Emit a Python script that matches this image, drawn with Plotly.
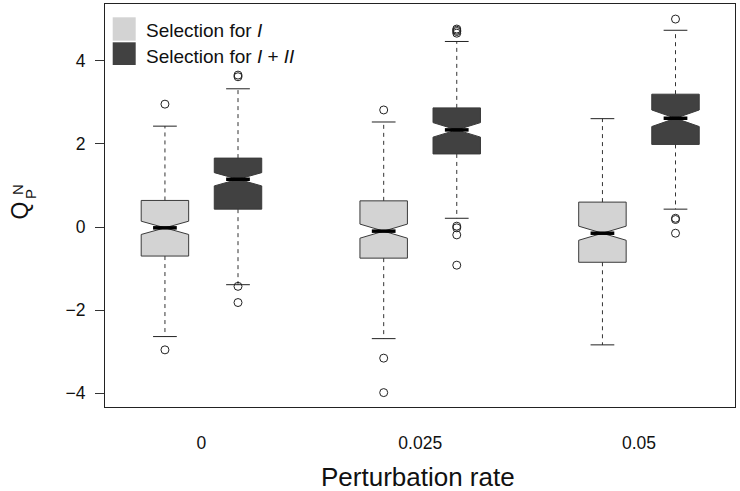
import plotly.graph_objects as go

# ---------------- data ----------------
categories = ["0", "0.025", "0.05"]
positions = [0, 1, 2]

# Selection for I (light boxes)
sel1_q1 = [-0.70, -0.75, -0.85]
sel1_median = [-0.02, -0.10, -0.15]
sel1_q3 = [0.64, 0.63, 0.60]
sel1_low = [-2.64, -2.69, -2.84]
sel1_high = [2.43, 2.53, 2.61]
sel1_notch = [0.16, 0.17, 0.17]
sel1_outliers = [[2.96, -2.96], [2.82, -3.16, -3.99], []]

# Selection for I + II (dark boxes)
sel12_q1 = [0.43, 1.76, 1.99]
sel12_median = [1.15, 2.34, 2.62]
sel12_q3 = [1.66, 2.87, 3.20]
sel12_low = [-1.39, 0.21, 0.43]
sel12_high = [3.33, 4.47, 4.74]
sel12_notch = [0.16, 0.175, 0.20]
sel12_outliers = [[3.62, 3.66, -1.43, -1.82],
                  [4.67, 4.71, 4.74, 4.77, 0.02, -0.02, -0.19, -0.92],
                  [5.01, 0.21, 0.18, -0.15]]

y_ticks = [-4, -2, 0, 2, 4]

# ---------------- style ----------------
FONT = "Liberation Sans, Arial, Helvetica, sans-serif"
LIGHT = "#d3d3d3"
DARK = "#414141"
EDGE = "#3a3a3a"
BOX_W = 0.217
OFFSET = 0.167

fig = go.Figure()


def add_series(name, shift, q1, med, q3, lo, hi, notch, outl, fill):
    xs = [p + shift for p in positions]
    fig.add_trace(go.Box(
        name=name, x=xs, q1=q1, median=med, q3=q3,
        lowerfence=q1, upperfence=q3, notched=True, notchspan=notch,
        notchwidth=0.5, width=BOX_W, whiskerwidth=0,
        fillcolor=fill, line=dict(color=EDGE, width=1),
        boxpoints=False, showlegend=False, hoverinfo="skip"))
    # dashed whiskers
    wx, wy = [], []
    for x, a, b, c, d in zip(xs, q3, hi, q1, lo):
        wx += [x, x, None, x, x, None]
        wy += [a, b, None, c, d, None]
    fig.add_trace(go.Scatter(x=wx, y=wy, mode="lines",
                             line=dict(color="#333", width=1, dash="4px,4px"),
                             showlegend=False, hoverinfo="skip"))
    # whisker caps
    cx, cy = [], []
    hw = BOX_W / 4
    for x, b, d in zip(xs, hi, lo):
        cx += [x - hw, x + hw, None, x - hw, x + hw, None]
        cy += [b, b, None, d, d, None]
    fig.add_trace(go.Scatter(x=cx, y=cy, mode="lines",
                             line=dict(color="#222", width=1),
                             showlegend=False, hoverinfo="skip"))
    # thick median
    mx, my = [], []
    for x, m in zip(xs, med):
        mx += [x - hw, x + hw, None]
        my += [m, m, None]
    fig.add_trace(go.Scatter(x=mx, y=my, mode="lines",
                             line=dict(color="#000", width=3.5),
                             showlegend=False, hoverinfo="skip"))
    # outliers
    ox, oy = [], []
    for x, vals in zip(xs, outl):
        for v in vals:
            ox.append(x)
            oy.append(v)
    fig.add_trace(go.Scatter(x=ox, y=oy, mode="markers",
                             marker=dict(symbol="circle-open", size=8,
                                         color="#222", line=dict(width=1)),
                             showlegend=False, hoverinfo="skip"))


add_series("Selection for I", -OFFSET, sel1_q1, sel1_median, sel1_q3,
           sel1_low, sel1_high, sel1_notch, sel1_outliers, LIGHT)
add_series("Selection for I + II", OFFSET, sel12_q1, sel12_median, sel12_q3,
           sel12_low, sel12_high, sel12_notch, sel12_outliers, DARK)

PW, PH = 630.0, 403.0


def px(x):
    return (x - 105) / PW


def py(y):
    return (407 - y) / PH


shapes = [
    dict(type="rect", xref="paper", yref="paper", x0=px(112.7), x1=px(135.7),
         y0=py(40.7), y1=py(17.3), fillcolor=LIGHT, line=dict(width=0)),
    dict(type="rect", xref="paper", yref="paper", x0=px(112.7), x1=px(135.7),
         y0=py(65.0), y1=py(42.3), fillcolor=DARK, line=dict(width=0)),
]

annotations = [
    dict(text="Selection for <i>I</i>", x=px(144), y=py(31), xref="paper",
         yref="paper", xanchor="left", yanchor="middle", showarrow=False,
         font=dict(size=19, family=FONT, color="#111")),
    dict(text="Selection for <i>I</i> + <i>II</i>", x=px(144), y=py(56),
         xref="paper", yref="paper", xanchor="left", yanchor="middle",
         showarrow=False, font=dict(size=19, family=FONT, color="#111")),
    dict(text="Perturbation rate", x=px(418), y=py(477), xref="paper",
         yref="paper", xanchor="center", yanchor="middle", showarrow=False,
         font=dict(size=26, family=FONT, color="#111")),
    dict(text="Q", x=px(19.5), y=py(211), xref="paper", yref="paper",
         xanchor="center", yanchor="middle", textangle=-90, showarrow=False,
         font=dict(size=23, family=FONT, color="#111")),
    dict(text="N", x=px(17), y=py(190), xref="paper", yref="paper",
         xanchor="center", yanchor="middle", textangle=-90, showarrow=False,
         font=dict(size=15, family=FONT, color="#111")),
    dict(text="P", x=px(30), y=py(194), xref="paper", yref="paper",
         xanchor="center", yanchor="middle", textangle=-90, showarrow=False,
         font=dict(size=15, family=FONT, color="#111")),
]

fig.update_layout(
    width=740, height=491,
    margin=dict(l=105, r=5, t=4, b=84),
    paper_bgcolor="white", plot_bgcolor="white",
    font=dict(family=FONT, color="#111"),
    boxmode="overlay",
    shapes=shapes, annotations=annotations,
    xaxis=dict(range=[-0.441, 2.439], tickvals=positions, ticktext=categories,
               ticks="", showgrid=False, zeroline=False, showline=True,
               mirror=True, linecolor="#222", linewidth=1,
               tickfont=dict(size=17.5, family=FONT, color="#111"),
               ticklabelstandoff=20),
    yaxis=dict(range=[-4.337, 5.373], tickvals=y_ticks, ticks="outside",
               ticklen=9, tickwidth=1, tickcolor="#333", showgrid=False,
               zeroline=False, showline=True, mirror=True, linecolor="#222",
               linewidth=1, tickfont=dict(size=17.5, family=FONT, color="#111"),
               ticklabelstandoff=6),
)

fig.write_html("out.html", config={"displayModeBar": False},
               post_script="document.body.style.margin='0';"
                           "document.body.style.overflow='hidden';")
